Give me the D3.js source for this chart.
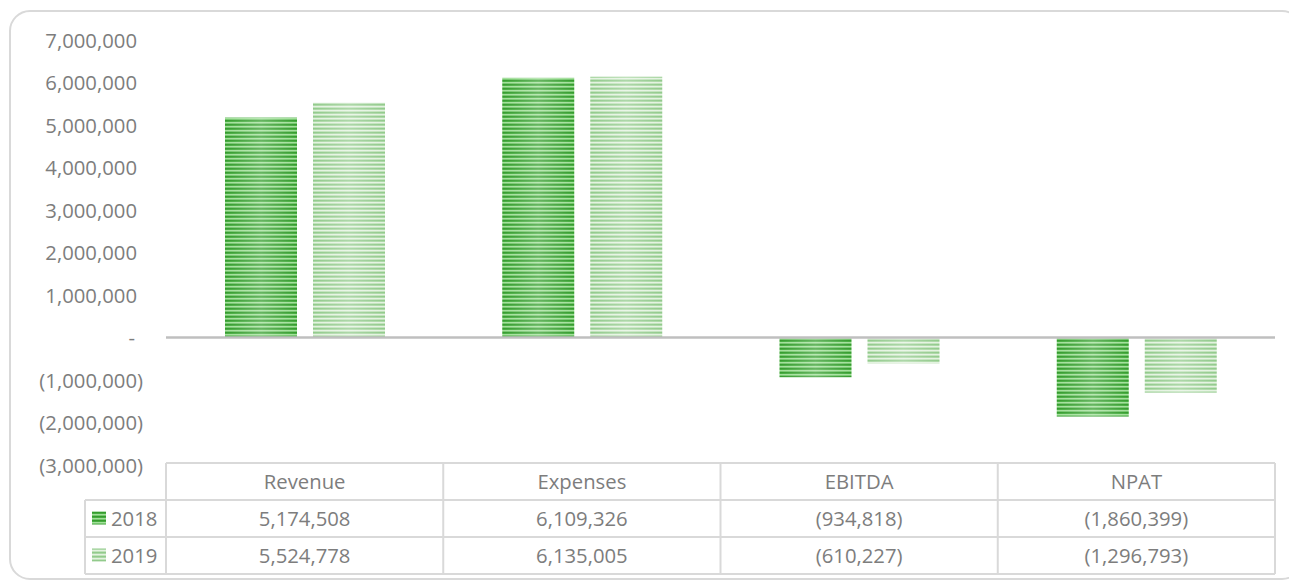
<!DOCTYPE html>
<html>
<head>
<meta charset="utf-8">
<script src="https://cdn.jsdelivr.net/npm/d3@7"></script>
<style>
  html, body { margin: 0; padding: 0; background: #fff; }
  svg text { font-family: "Open Sans", "Noto Sans", sans-serif; fill: #7d7d7d; }
</style>
</head>
<body>
<div id="chart"></div>
<script>
// chart data
const categories = ["Revenue", "Expenses", "EBITDA", "NPAT"];
const series = ["2018", "2019"];
const values2018 = [5174508, 6109326, -934818, -1860399];
const values2019 = [5524778, 6135005, -610227, -1296793];
const yTicks = [7000000, 6000000, 5000000, 4000000, 3000000, 2000000, 1000000, 0, -1000000, -2000000, -3000000];

const W = 1289, H = 581;
const plot = { left: 166, right: 1275, top: 40, bottom: 465 };
const fontSize = 20.3;

const svg = d3.select("#chart").append("svg")
  .attr("width", W)
  .attr("height", H);

// stripe patterns + soft horizontal shading like the office fill
const defs = svg.append("defs");

function stripes(id, cols) {
  const p = defs.append("pattern")
    .attr("id", id)
    .attr("patternUnits", "userSpaceOnUse")
    .attr("width", 8).attr("height", 4);
  cols.forEach((c, i) => {
    p.append("rect").attr("x", 0).attr("y", i).attr("width", 8).attr("height", 1).attr("fill", c);
  });
}
stripes("pat2018", ["#359b2e", "#47ad40", "#a3df9b", "#74c66d"]);
stripes("pat2019", ["#92ca8c", "#acd8a6", "#e3f2e0", "#c0e2bb"]);

const shade = defs.append("linearGradient").attr("id", "shade")
  .attr("x1", "0%").attr("x2", "100%").attr("y1", "0%").attr("y2", "0%");
shade.append("stop").attr("offset", "0%").attr("stop-color", "#fff").attr("stop-opacity", 0);
shade.append("stop").attr("offset", "50%").attr("stop-color", "#fff").attr("stop-opacity", 0.25);
shade.append("stop").attr("offset", "100%").attr("stop-color", "#fff").attr("stop-opacity", 0);

// outer frame
svg.append("rect")
  .attr("x", 10).attr("y", 11)
  .attr("width", 1292).attr("height", 568)
  .attr("rx", 20)
  .attr("fill", "none")
  .attr("stroke", "#d9d9d9")
  .attr("stroke-width", 2);

const x0 = d3.scaleBand()
  .domain(categories)
  .range([plot.left, plot.right])
  .paddingInner(0).paddingOuter(0);

const x1 = d3.scaleBand()
  .domain(series)
  .range([59, 59 + 160])
  .paddingInner(16 / 88);

const y = d3.scaleLinear()
  .domain([-3000000, 7000000])
  .range([plot.bottom, plot.top]);

// y axis (accounting style labels)
const fmt = d3.format(",");
const yAxis = svg.append("g")
  .attr("transform", `translate(${plot.left},0)`)
  .call(d3.axisLeft(y)
    .tickValues(yTicks)
    .tickSize(0)
    .tickPadding(23)
    .tickFormat(d => d === 0 ? "-" : d < 0 ? "(" + fmt(-d) + ")" : fmt(d)));
yAxis.select(".domain").remove();
yAxis.selectAll("text")
  .attr("font-size", fontSize)
  .attr("font-family", null)
  .attr("dy", "0.35em")
  .attr("x", d => d < 0 ? -23 : d === 0 ? -31 : -29);

const data = [values2018, values2019];

// bars
series.forEach((s, si) => {
  const g = svg.append("g").attr("class", "series-" + s);
  const rows = categories.map((c, i) => ({ c, v: data[si][i] }));
  g.selectAll("rect.bar")
    .data(rows)
    .join("rect")
    .attr("class", "bar")
    .attr("x", d => x0(d.c) + x1(s))
    .attr("width", x1.bandwidth())
    .attr("y", d => y(Math.max(0, d.v)))
    .attr("height", d => Math.abs(y(d.v) - y(0)))
    .attr("fill", `url(#pat${s})`);
  g.selectAll("rect.shade")
    .data(rows)
    .join("rect")
    .attr("class", "shade")
    .attr("x", d => x0(d.c) + x1(s))
    .attr("width", x1.bandwidth())
    .attr("y", d => y(Math.max(0, d.v)))
    .attr("height", d => Math.abs(y(d.v) - y(0)))
    .attr("fill", "url(#shade)");
});

// zero line
svg.append("line")
  .attr("x1", plot.left).attr("x2", plot.right)
  .attr("y1", y(0)).attr("y2", y(0))
  .attr("stroke", "#bfbfbf")
  .attr("stroke-width", 2.5);

// data table
const tblTop = 463, rowH = 37, legLeft = 85;
const tbl = svg.append("g").attr("class", "table");
const lineCol = "#d9d9d9";

// horizontal lines
tbl.append("line").attr("x1", plot.left).attr("x2", plot.right).attr("y1", tblTop).attr("y2", tblTop);
[1, 2, 3].forEach(r => {
  tbl.append("line").attr("x1", legLeft).attr("x2", plot.right)
    .attr("y1", tblTop + r * rowH).attr("y2", tblTop + r * rowH);
});
// vertical lines
tbl.append("line").attr("x1", legLeft).attr("x2", legLeft).attr("y1", tblTop + rowH).attr("y2", tblTop + 3 * rowH);
categories.forEach(c => {
  tbl.append("line").attr("x1", x0(c)).attr("x2", x0(c)).attr("y1", tblTop).attr("y2", tblTop + 3 * rowH);
});
tbl.append("line").attr("x1", plot.right).attr("x2", plot.right).attr("y1", tblTop).attr("y2", tblTop + 3 * rowH);
tbl.selectAll("line").attr("stroke", lineCol).attr("stroke-width", 2);

// header
tbl.selectAll("text.head")
  .data(categories)
  .join("text")
  .attr("class", "head")
  .attr("x", d => x0(d) + x0.bandwidth() / 2)
  .attr("y", tblTop + rowH / 2)
  .attr("dy", "0.35em")
  .attr("text-anchor", "middle")
  .attr("font-size", fontSize)
  .text(d => d);

const cellFmt = v => v < 0 ? "(" + fmt(-v) + ")" : fmt(v);

series.forEach((s, si) => {
  const cy = tblTop + (si + 1) * rowH + rowH / 2;
  tbl.append("rect")
    .attr("x", 92).attr("y", cy - 7)
    .attr("width", 14).attr("height", 13)
    .attr("fill", `url(#pat${s})`);
  tbl.append("text")
    .attr("x", 111).attr("y", cy)
    .attr("dy", "0.35em")
    .attr("font-size", fontSize)
    .text(s);
  tbl.selectAll("text.v" + s)
    .data(data[si])
    .join("text")
    .attr("class", "v" + s)
    .attr("x", (d, i) => x0(categories[i]) + x0.bandwidth() / 2)
    .attr("y", cy)
    .attr("dy", "0.35em")
    .attr("text-anchor", "middle")
    .attr("font-size", fontSize)
    .text(d => cellFmt(d));
});
</script>
</body>
</html>
